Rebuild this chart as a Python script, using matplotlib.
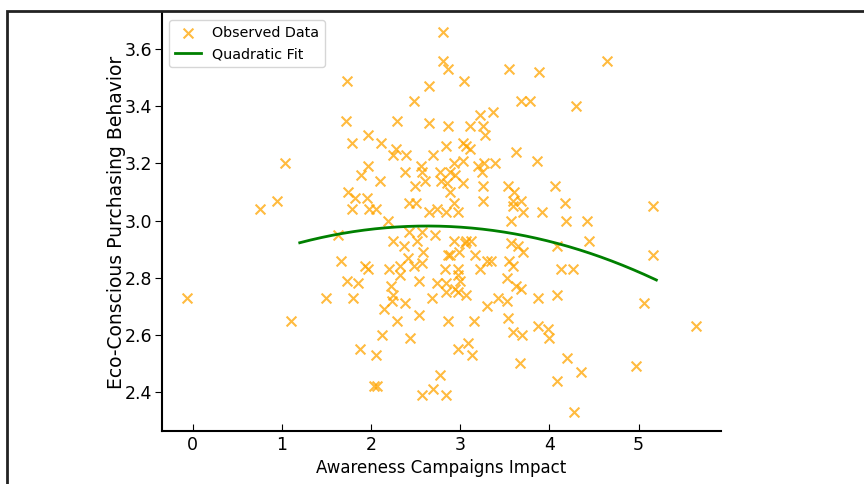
import numpy as np
import matplotlib
matplotlib.use("Agg")
import matplotlib.pyplot as plt
from matplotlib.patches import Rectangle

# awareness campaign impact (x) and eco-conscious purchasing score (y)
awareness = [
    -0.06, 0.75, 0.94, 1.04, 1.10, 1.49, 1.63, 1.66, 1.73, 1.72,
    1.73, 1.79, 1.85, 1.80, 1.74, 1.82, 1.79, 1.89, 1.96, 1.96,
    1.95, 1.98, 2.05, 1.93, 1.97, 1.88, 2.06, 2.03, 2.07, 2.11,
    2.10, 2.12, 2.14, 2.19, 2.20, 2.22, 2.25, 2.23, 2.25, 2.29,
    2.28, 2.25, 2.29, 2.32, 2.32, 2.39, 2.38, 2.37, 2.38, 2.41,
    2.42, 2.42, 2.44, 2.48, 2.49, 2.50, 2.48, 2.52, 2.54, 2.54,
    2.56, 2.57, 2.57, 2.57, 2.57, 2.58, 2.61, 2.65, 2.65, 2.65,
    2.69, 2.68, 2.70, 2.72, 2.74, 2.74, 2.77, 2.77, 2.78, 2.81,
    2.81, 2.86, 2.84, 2.85, 2.86, 2.88, 2.84, 2.83, 2.84, 2.84,
    2.84, 2.86, 2.86, 2.89, 2.89, 2.93, 2.93, 2.93, 2.94, 2.94,
    2.97, 2.97, 2.97, 2.98, 2.98, 2.99, 3.00, 3.03, 3.03, 3.03,
    3.04, 3.06, 3.05, 3.06, 3.07, 3.09, 3.11, 3.11, 3.12, 3.13,
    3.15, 3.17, 3.20, 3.22, 3.22, 3.24, 3.25, 3.25, 3.26, 3.27,
    3.28, 3.30, 3.30, 3.34, 3.37, 3.39, 3.42, 3.52, 3.53, 3.54,
    3.54, 3.55, 3.55, 3.57, 3.57, 3.59, 3.59, 3.59, 3.59, 3.60,
    3.62, 3.63, 3.65, 3.67, 3.68, 3.68, 3.68, 3.69, 3.70, 3.70,
    3.78, 3.86, 3.87, 3.87, 3.88, 3.92, 3.98, 4.00, 4.06, 4.08,
    4.09, 4.09, 4.13, 4.17, 4.19, 4.20, 4.27, 4.28, 4.30, 4.36,
    4.42, 4.44, 4.65, 4.97, 5.06, 5.16, 5.16, 5.64,
]
purchasing = [
    2.73, 3.04, 3.07, 3.20, 2.65, 2.73, 2.95, 2.86, 3.49, 3.35,
    2.79, 3.27, 2.78, 2.73, 3.10, 3.08, 3.04, 3.16, 3.19, 3.30,
    3.08, 3.04, 3.04, 2.84, 2.83, 2.55, 2.53, 2.42, 2.42, 3.27,
    3.14, 2.60, 2.69, 3.00, 2.83, 2.77, 2.74, 2.72, 2.93, 3.35,
    3.25, 3.23, 2.65, 2.84, 2.81, 3.23, 3.17, 2.91, 2.71, 2.87,
    3.06, 2.96, 2.59, 3.42, 3.12, 3.06, 2.84, 2.93, 2.79, 2.67,
    3.19, 3.17, 2.96, 2.85, 2.39, 2.89, 3.14, 3.47, 3.34, 3.03,
    3.23, 2.73, 2.41, 2.95, 3.04, 2.78, 2.46, 3.17, 3.14, 3.66,
    3.56, 3.53, 3.26, 3.13, 3.33, 3.17, 3.03, 2.83, 2.78, 2.75,
    2.39, 2.88, 2.65, 3.10, 2.88, 3.20, 3.06, 2.93, 3.16, 2.76,
    3.03, 2.83, 2.55, 2.81, 2.75, 2.89, 2.79, 3.27, 3.21, 3.13,
    3.49, 3.26, 2.92, 2.74, 2.93, 2.57, 3.33, 3.25, 2.93, 2.53,
    2.65, 2.88, 3.19, 3.37, 2.83, 3.17, 3.33, 3.07, 3.12, 3.20,
    3.30, 2.86, 2.70, 2.86, 3.38, 3.20, 2.73, 2.72, 2.80, 3.12,
    2.66, 3.53, 2.86, 3.00, 2.92, 3.07, 3.05, 2.84, 2.61, 3.10,
    2.77, 3.24, 2.91, 2.50, 3.42, 3.07, 2.76, 2.60, 3.03, 2.89,
    3.42, 3.21, 2.73, 2.63, 3.52, 3.03, 2.62, 2.59, 3.12, 2.74,
    2.91, 2.44, 2.83, 3.06, 3.00, 2.52, 2.83, 2.33, 3.40, 2.47,
    3.00, 2.93, 3.56, 2.49, 2.71, 3.05, 2.88, 2.63,
]
fit_range = (1.2, 5.2)

x = np.array(awareness)
y = np.array(purchasing)
coef = np.polyfit(x, y, 2)
x_fit = np.linspace(fit_range[0], fit_range[1], 200)
y_fit = np.polyval(coef, x_fit)

fig = plt.figure(figsize=(8.64, 4.84), dpi=100)
ax = fig.add_axes([0.1875, 0.1095, 0.647, 0.8635])

ax.scatter(x, y, marker="x", s=50, color="orange", alpha=0.75,
           linewidths=1.5, label="Observed Data")
ax.plot(x_fit, y_fit, color="green", linewidth=2, label="Quadratic Fit")

ax.set_xlabel("Awareness Campaigns Impact", fontsize=12)
ax.set_ylabel("Eco-Conscious Purchasing Behavior", fontsize=13.5, labelpad=-1)
ax.set_yticks([2.4, 2.6, 2.8, 3.0, 3.2, 3.4, 3.6])
ax.tick_params(axis="x", direction="in", labelsize=12.5, length=5)
ax.tick_params(axis="y", direction="out", labelsize=12.5, length=5, pad=2)
ax.spines["top"].set_visible(False)
ax.spines["right"].set_visible(False)
for s in ("left", "bottom"):
    ax.spines[s].set_linewidth(1.5)
ax.legend(loc="upper left", fontsize=10.3, handlelength=1.8,
          borderaxespad=0.5)

# frame around the figure (runs off the right and bottom edges)
fig.patches.append(Rectangle((7 / 864, -0.1), 1.1, 1 - 11 / 484 + 0.1,
                             transform=fig.transFigure, fill=False,
                             edgecolor="#222222", linewidth=2))

fig.savefig("out.png", dpi=100)
